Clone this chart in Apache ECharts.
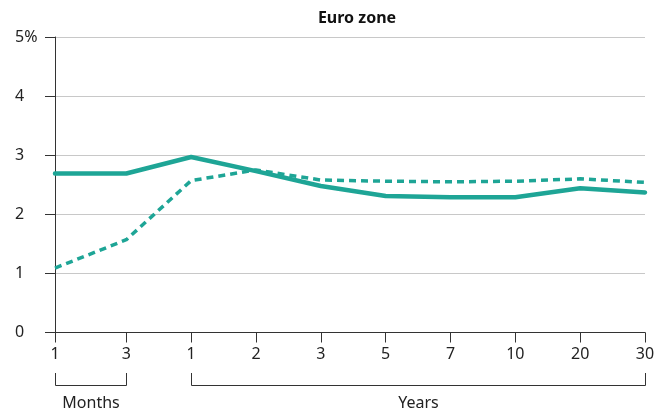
<!DOCTYPE html>
<html>
<head>
<meta charset="utf-8">
<script src="https://cdn.jsdelivr.net/npm/echarts@6/dist/echarts.min.js"></script>
<style>
  html, body { margin: 0; padding: 0; background: #fff; }
  #chart { width: 669px; height: 412px; }
</style>
</head>
<body>
<div id="chart"></div>
<script>
// Tenors along the curve: two money-market points (months), then bond tenors (years)
const tenorLabels = ['1', '3', '1', '2', '3', '5', '7', '10', '20', '30'];
// Position of each tenor on the x scale; a slightly wider step separates months from years
const tenorSlots = [0, 1.1, 2.1, 3.1, 4.1, 5.1, 6.1, 7.1, 8.1, 9.1];
// Yield curve, %
const currentYields = [2.69, 2.69, 2.97, 2.73, 2.48, 2.31, 2.29, 2.29, 2.44, 2.37];
const forwardYields = [1.09, 1.57, 2.57, 2.75, 2.58, 2.56, 2.55, 2.56, 2.60, 2.54];
// Y axis ticks, %
const yTicks = [0, 1, 2, 3, 4, 5];
// Tenor groups shown with brackets under the axis (index range into tenorLabels)
const tenorGroups = [
  { name: 'Months', from: 0, to: 1 },
  { name: 'Years', from: 2, to: 9 }
];

const FONT = 'Noto Sans';
const TEAL = '#1ea596';
const INK = '#222222';

const chart = echarts.init(document.getElementById('chart'), null, { renderer: 'canvas' });

const toPoints = vals => tenorSlots.map((s, i) => [s, vals[i]]);

chart.setOption({
  animation: false,
  backgroundColor: '#ffffff',
  title: {
    text: 'Euro zone',
    left: 352,
    top: 5,
    textAlign: 'center',
    textStyle: { fontFamily: FONT, fontWeight: 'bold', fontSize: 16, color: '#111' }
  },
  grid: { left: 55, right: 24, top: 37, bottom: 79.5, containLabel: false },
  xAxis: {
    type: 'value',
    min: tenorSlots[0],
    max: tenorSlots[tenorSlots.length - 1],
    splitLine: { show: false },
    axisLine: { show: true, lineStyle: { color: '#333', width: 1 } },
    axisTick: {
      show: true,
      customValues: tenorSlots,
      length: 10,
      lineStyle: { color: '#333', width: 1 }
    },
    axisLabel: {
      customValues: tenorSlots,
      margin: 14,
      fontFamily: FONT,
      fontSize: 16,
      color: INK,
      formatter: v => {
        const i = tenorSlots.findIndex(s => Math.abs(s - v) < 1e-6);
        return i >= 0 ? tenorLabels[i] : '';
      }
    }
  },
  yAxis: {
    type: 'value',
    min: yTicks[0],
    max: yTicks[yTicks.length - 1],
    interval: 1,
    axisLine: { show: true, lineStyle: { color: '#333', width: 1 } },
    axisTick: { show: true, length: 10, lineStyle: { color: '#333', width: 1 } },
    splitLine: { show: true, lineStyle: { color: '#c8c8c8', width: 1 } },
    axisLabel: {
      margin: 40,
      align: 'left',
      fontFamily: FONT,
      fontSize: 16,
      color: INK,
      formatter: v => (v === yTicks[yTicks.length - 1] ? v + '%' : String(v))
    }
  },
  series: [
    {
      name: 'Current',
      type: 'line',
      data: toPoints(currentYields),
      showSymbol: false,
      symbol: 'none',
      lineStyle: { color: TEAL, width: 4.5, cap: 'round', join: 'round' },
      z: 3
    },
    {
      name: 'Forward',
      type: 'line',
      data: toPoints(forwardYields),
      showSymbol: false,
      symbol: 'none',
      lineStyle: { color: TEAL, width: 3.5, type: [7, 5], cap: 'butt', join: 'round' },
      z: 2
    }
  ]
});

// Brackets grouping tenors into months and years, placed from the x scale
function drawGroups() {
  const elements = [];
  const topY = 373, baseY = 385, textY = 403;
  tenorGroups.forEach(g => {
    const x1 = Math.round(chart.convertToPixel({ xAxisIndex: 0 }, tenorSlots[g.from])) + 0.5;
    const x2 = Math.round(chart.convertToPixel({ xAxisIndex: 0 }, tenorSlots[g.to])) + 0.5;
    elements.push({
      type: 'polyline',
      shape: { points: [[x1, topY], [x1, baseY + 0.5], [x2, baseY + 0.5], [x2, topY]] },
      style: { stroke: '#333', lineWidth: 1, fill: null },
      silent: true
    });
    elements.push({
      type: 'text',
      x: (x1 + x2) / 2,
      y: textY,
      style: {
        text: g.name,
        fontFamily: FONT,
        fontSize: 16,
        fill: INK,
        align: 'center',
        verticalAlign: 'middle'
      },
      silent: true
    });
  });
  chart.setOption({ graphic: { elements } });
}
drawGroups();
</script>
</body>
</html>
